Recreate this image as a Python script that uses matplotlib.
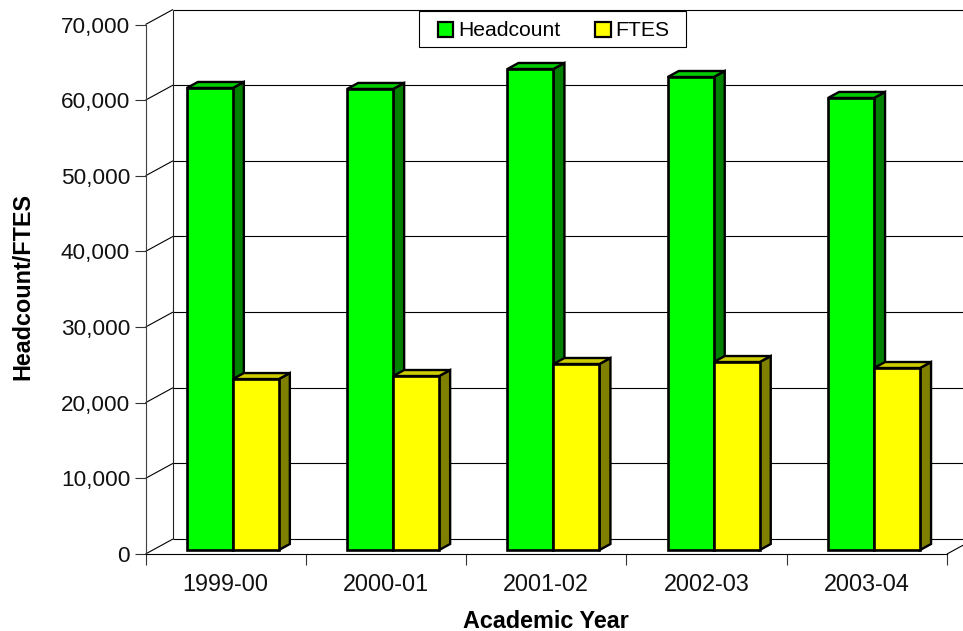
import matplotlib
matplotlib.use("Agg")
import matplotlib.pyplot as plt
import numpy as np
from matplotlib.patches import Polygon, Patch, Rectangle
from matplotlib.transforms import Affine2D, IdentityTransform

years = ["1999-00", "2000-01", "2001-02", "2002-03", "2003-04"]
headcount = [61080, 60950, 63590, 62530, 59760]
ftes = [22600, 23000, 24590, 24850, 24060]
y_ticks = [0, 10000, 20000, 30000, 40000, 50000, 60000, 70000]

plt.rcParams['font.family'] = ['Liberation Sans', 'DejaVu Sans']
W, H = 963, 631
fig = plt.figure(figsize=(W / 100, H / 100), dpi=100)
L, R, T, B = 145.5, 947, 24.5, 554
ax = fig.add_axes([L / W, 1 - B / H, (R - L) / W, (B - T) / H])
ax.set_xlim(0, len(years))
ax.set_ylim(0, 70000)
ax.patch.set_visible(False)

for s in ['top', 'right']:
    ax.spines[s].set_visible(False)
ax.spines['left'].set_color('#404040')
ax.spines['left'].set_linewidth(0.8)
ax.spines['bottom'].set_color('black')
ax.spines['bottom'].set_linewidth(0.8)
ax.spines['left'].set_zorder(1)

ax.set_yticks(y_ticks)
ax.set_yticklabels([f"{v:,}" for v in y_ticks], fontsize=16.2, color='#111111')
ax.tick_params(axis='y', length=8, width=0.8, color='#333333', pad=3)
xpos = np.arange(len(years)) + 0.5
ax.set_xticks(np.arange(len(years) + 1))
ax.set_xticklabels([])
ax.set_xticks(xpos, minor=True)
ax.set_xticklabels(years, minor=True, fontsize=16.8, color='#111111')
ax.tick_params(axis='x', which='major', length=8, width=0.8, color='#333333')
ax.tick_params(axis='x', which='minor', length=0, pad=13.5)
ax.set_xlabel("Academic Year", fontsize=16.8, fontweight='bold', labelpad=10)
ax.set_ylabel("Headcount/FTES", fontsize=16.8, fontweight='bold', labelpad=19, y=0.506)

fig.canvas.draw()
WALL = np.array([27.5, 15.0])
FACE = np.array([7.2, 4.0])
DEPTH = np.array([11.0, 6.0])


def px(x, y, off=(0, 0)):
    return ax.transData.transform((x, y)) + np.asarray(off)


def line(points, z=1, color='black', lw=0.8):
    pts = np.array(points)
    ax.plot(pts[:, 0], pts[:, 1], transform=IdentityTransform(), color=color, lw=lw,
            zorder=z, clip_on=False, solid_capstyle='butt')


xmax = len(years)
far = 40  # lines run off the right edge of the figure
for v in y_ticks:
    line([px(0, v), px(0, v, WALL)])
    if v:
        line([px(0, v, WALL), px(xmax, v, WALL + np.array([far, 0]))])
line([px(0, 0, WALL), px(xmax, 0, WALL + np.array([far, 0]))])
line([px(0, 0, WALL), px(0, 70000, WALL)], color='#222222')
line([px(xmax, 0), px(xmax, 0, WALL)])

width = 46.0 / ((R - L) / xmax)
face_tf = Affine2D().translate(*FACE)
series = [
    (headcount, -width / 2, '#00FF00', '#00CC00', '#008000', 'Headcount'),
    (ftes, width / 2, '#FFFF00', '#CCCC00', '#808000', 'FTES'),
]
for i in range(len(years)):
    for vals, shift, front, top, side, name in series:
        x0 = xpos[i] + shift - width / 2
        x1 = x0 + width
        v = vals[i]
        z = 3 + i
        ax.bar(x0 + width / 2, v, width, color=front, edgecolor='black', linewidth=1.9,
               transform=ax.transData + face_tf, zorder=z, clip_on=False)
        kw = dict(edgecolor='black', linewidth=1.7, joinstyle='miter', clip_on=False)
        back = FACE + DEPTH
        ax.add_patch(Polygon([px(x1, 0, FACE), px(x1, v, FACE), px(x1, v, back), px(x1, 0, back)],
                             closed=True, transform=IdentityTransform(), facecolor=side,
                             zorder=z - 0.5, **kw))
        ax.add_patch(Polygon([px(x0, v, FACE), px(x1, v, FACE), px(x1, v, back), px(x0, v, back)],
                             closed=True, transform=IdentityTransform(), facecolor=top,
                             zorder=z - 0.5, **kw))

# legend frame, then the legend itself without a frame of its own
fig.add_artist(Rectangle((419 / W, 1 - 47 / H), 267 / W, 36 / H, transform=fig.transFigure,
                         facecolor='white', edgecolor='black', linewidth=0.8, zorder=19))
handles = [Patch(facecolor=s[2], edgecolor='black', linewidth=1.6, label=s[5]) for s in series]
leg = fig.legend(handles=handles, ncol=2, loc='center left',
                 bbox_to_anchor=(438 / W, 1 - 31 / H), bbox_transform=fig.transFigure,
                 fontsize=15.2, frameon=False, borderaxespad=0, borderpad=0,
                 handlelength=0.72, handleheight=0.72, handletextpad=0.24, columnspacing=1.65)
leg.set_zorder(20)

fig.savefig("out.png", dpi=100)
